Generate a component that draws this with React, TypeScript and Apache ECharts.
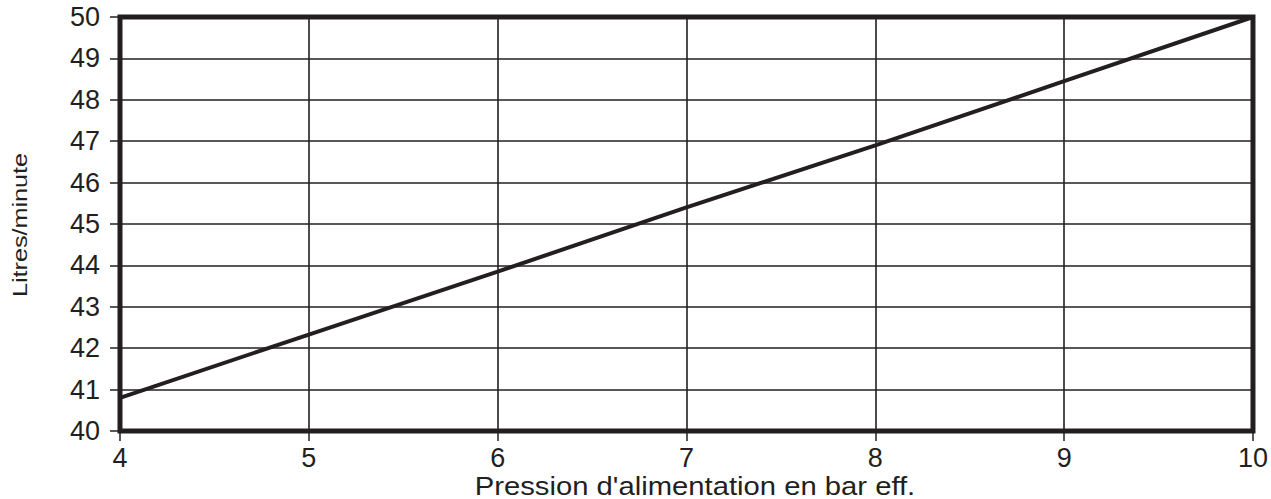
import React, { useEffect, useRef } from "react";
import * as echarts from "echarts";

const pressure = [4, 5, 6, 7, 8, 9, 10];
const flow = [40.8, 42.33, 43.85, 45.4, 46.9, 48.45, 50];
const xTitle = "Pression d'alimentation en bar eff.";
const yTitle = "Litres/minute";

export default function App() {
  const ref = useRef<HTMLDivElement>(null);
  useEffect(() => {
    const chart = echarts.init(ref.current!, null, { renderer: "svg" });
    const ink = "#231f20";
    const font = "Liberation Sans, Arial, Helvetica, sans-serif";
    chart.setOption({
      animation: false,
      textStyle: { fontFamily: font },
      grid: {
        left: 120,
        top: 17,
        right: 15,
        bottom: 68,
        show: true,
        borderColor: ink,
        borderWidth: 5,
        backgroundColor: "#fff",
      },
      graphic: [
        {
          type: "text",
          x: 20,
          y: 225,
          rotation: Math.PI / 2,
          scaleX: 1.2,
          style: {
            text: yTitle,
            font: `21px ${font}`,
            fill: ink,
            textAlign: "center",
            textVerticalAlign: "middle",
          },
        },
        {
          type: "text",
          x: 695,
          y: 486,
          scaleX: 1.17,
          style: {
            text: xTitle,
            font: `25px ${font}`,
            fill: ink,
            textAlign: "center",
            textVerticalAlign: "middle",
          },
        },
      ],
      xAxis: {
        type: "value",
        min: 4,
        max: 10,
        interval: 1,
        axisLine: { show: false },
        axisTick: { show: true, length: 10, lineStyle: { color: ink, width: 1.5 } },
        axisLabel: { fontSize: 27, color: ink, margin: 13, fontFamily: font },
        splitLine: { show: true, lineStyle: { color: ink, width: 1.6 } },
      },
      yAxis: {
        type: "value",
        min: 40,
        max: 50,
        interval: 1,
        axisLine: { show: false },
        axisTick: { show: true, length: 10, lineStyle: { color: ink, width: 1.5 } },
        axisLabel: { fontSize: 27, color: ink, margin: 20, fontFamily: font },
        splitLine: { show: true, lineStyle: { color: ink, width: 1.6 } },
      },
      series: [
        {
          type: "line",
          data: pressure.map((p, i) => [p, flow[i]]),
          showSymbol: false,
          lineStyle: { color: ink, width: 4 },
          z: 5,
        },
      ],
    });
    return () => chart.dispose();
  }, []);
  return (
    <div
      ref={ref}
      style={{ position: "fixed", left: 0, top: 0, width: 1271, height: 499, background: "#fff" }}
    />
  );
}
